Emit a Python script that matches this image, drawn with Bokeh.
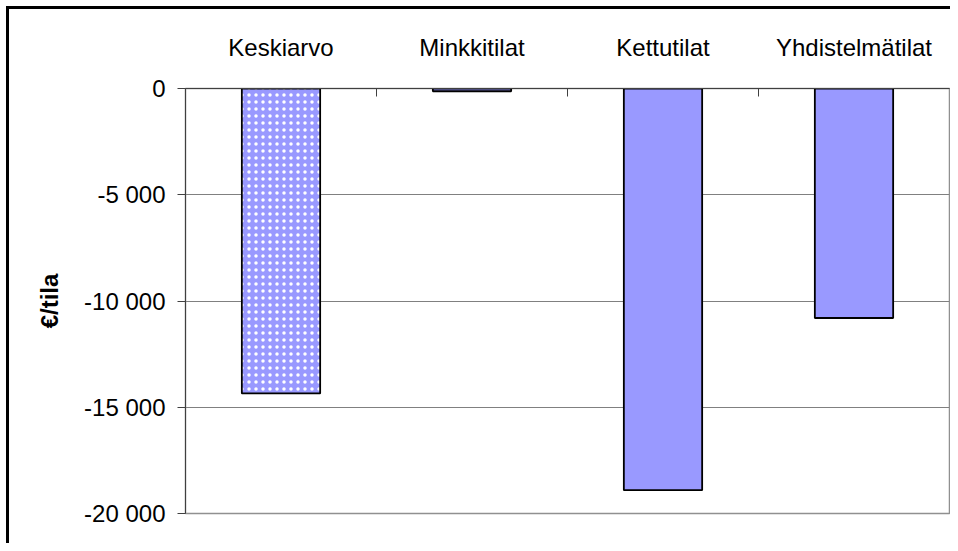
from bokeh.plotting import figure
from bokeh.models import Range1d, FixedTicker, ColumnDataSource, CustomJSTickFormatter
from bokeh.core.properties import field
from bokeh.embed import file_html
from bokeh.resources import INLINE

# ---- data ----
categories = ["Keskiarvo", "Minkkitilat", "Kettutilat", "Yhdistelmätilat"]
values = [-14350, -130, -18900, -10800]
y_ticks = [0, -5000, -10000, -15000, -20000]
y_label = "€/tila"

FONT = "Liberation Sans"
n = len(categories)
xs = [i + 0.5 for i in range(n)]
patterns = ["." if c == "Keskiarvo" else " " for c in categories]

src = ColumnDataSource(dict(x=xs, top=[0] * n, bottom=values, pattern=patterns))

p = figure(width=950, height=543, output_backend="svg", toolbar_location=None,
           x_range=Range1d(0, n), y_range=Range1d(min(y_ticks), max(y_ticks)),
           x_axis_location="above",
           min_border_left=185, min_border_top=88, min_border_right=1, min_border_bottom=30)

p.vbar(x="x", top="top", bottom="bottom", width=0.41, source=src,
       fill_color="#9999FF", line_color="black", line_width=1.8,
       hatch_pattern=field("pattern"), hatch_color="white", hatch_scale=7, hatch_weight=1.3)

# y axis
p.yaxis.ticker = FixedTicker(ticks=y_ticks)
p.yaxis.formatter = CustomJSTickFormatter(code="""
const s = Math.abs(tick).toFixed(0).replace(/\\B(?=(\\d{3})+(?!\\d))/g, ' ');
return (tick < 0 ? '-' : '') + s;
""")
p.yaxis.axis_line_color = "#404040"
p.yaxis.major_tick_line_color = "#404040"
p.yaxis.major_tick_out = 8
p.yaxis.major_tick_in = 0
p.yaxis.minor_tick_out = 0
p.yaxis.minor_tick_in = 0
p.yaxis.major_label_standoff = 12
p.yaxis.major_label_text_font = FONT
p.yaxis.major_label_text_font_size = "24px"
p.yaxis.major_label_text_color = "black"
p.yaxis.axis_label = y_label
p.yaxis.axis_label_text_font = FONT
p.yaxis.axis_label_text_font_size = "24px"
p.yaxis.axis_label_text_font_style = "bold"
p.yaxis.axis_label_text_color = "black"
p.yaxis.axis_label_standoff = 18

# x axis (top)
p.xaxis.ticker = FixedTicker(ticks=xs, minor_ticks=list(range(1, n)))
p.xaxis.formatter = CustomJSTickFormatter(args=dict(cats=categories),
                                          code="return cats[Math.floor(tick)] || '';")
p.xaxis.axis_line_color = "#404040"
p.xaxis.major_tick_in = 0
p.xaxis.major_tick_out = 0
p.xaxis.minor_tick_in = 8
p.xaxis.minor_tick_out = 0
p.xaxis.minor_tick_line_color = "#404040"
p.xaxis.major_label_standoff = 28
p.xaxis.major_label_text_font = FONT
p.xaxis.major_label_text_font_size = "24px"
p.xaxis.major_label_text_color = "black"

p.xgrid.visible = False
p.ygrid.grid_line_color = "#808080"
p.ygrid.grid_line_width = 1

p.outline_line_color = "#909090"
p.outline_line_width = 1.5
p.background_fill_color = "white"
p.border_fill_alpha = 0
p.styles = {"background": "white",
            "box-shadow": "inset 6px 6px 0 0 white, inset 9px 9px 0 0 black"}

open("out.html", "w").write(file_html(p, INLINE))
